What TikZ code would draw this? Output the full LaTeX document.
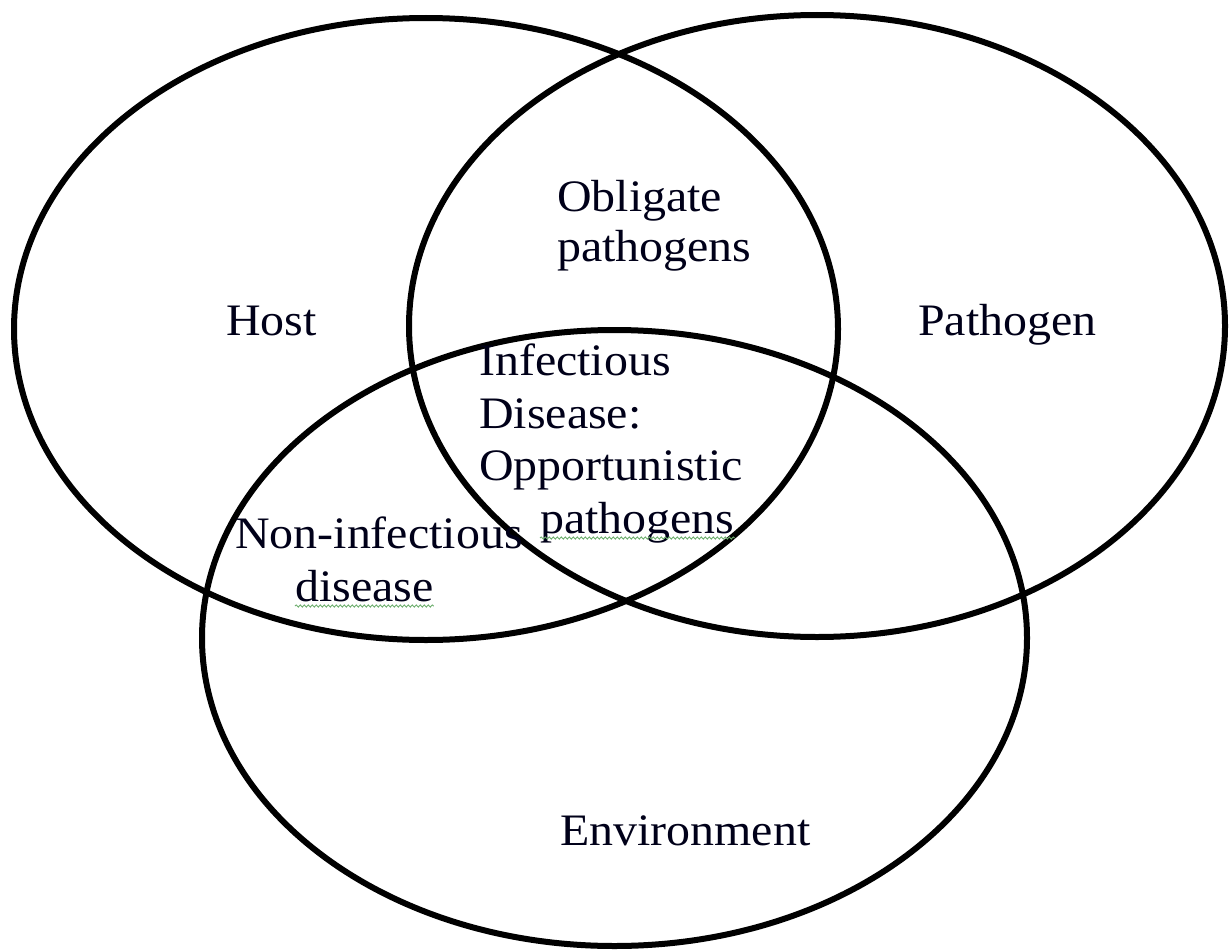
\documentclass[tikz,border=0pt]{standalone}
\usepackage{fontspec}
\setmainfont[FakeStretch=1.065]{Liberation Serif}
\usetikzlibrary{decorations.pathmorphing}
\begin{document}
\begin{tikzpicture}[x=1pt,y=-1pt,
  ring/.style={line width=6pt, draw=black},
  lbl/.style={anchor=base west, inner sep=0pt, font=\fontsize{45}{53}\selectfont, text=black!90!blue},
  spell/.style={draw={rgb,255:red,110;green,175;blue,110}, line width=0.9pt, decorate,
    decoration={snake, amplitude=1.1pt, segment length=4pt}}]
\useasboundingbox (0,0) rectangle (1231,950);
\fill[white] (0,0) rectangle (1231,950);
% circles
\draw[ring] (426,329) ellipse [x radius=412pt, y radius=311pt];
\draw[ring] (817,326) ellipse [x radius=408pt, y radius=311pt];
\draw[ring] (614.5,638) ellipse [x radius=412.5pt, y radius=308pt];
% labels
\node[lbl] (host) at (226,335) {Host};
\node[lbl] (pathogen) at (918,335) {Pathogen};
\node[lbl] (obl1) at (557,211) {Obligate};
\node[lbl] (obl2) at (557,261) {pathogens};
\node[lbl] (inf1) at (479,375) {Infectious};
\node[lbl] (inf2) at (479,428) {Disease:};
\node[lbl] (inf3) at (479,480) {Opportunistic};
\node[lbl] (inf4) at (540,533) {pathogens};
\node[lbl] (non1) at (235,548) {Non-infectious};
\node[lbl] (non2) at (295,601) {disease};
\node[lbl] (env) at (560,845) {Environment};
% spell-check underlines
\draw[spell] ([yshift=-5pt]inf4.base west) -- ([yshift=-5pt]inf4.base east);
\draw[spell] ([yshift=-5pt]non2.base west) -- ([yshift=-5pt]non2.base east);
\end{tikzpicture}
\end{document}
